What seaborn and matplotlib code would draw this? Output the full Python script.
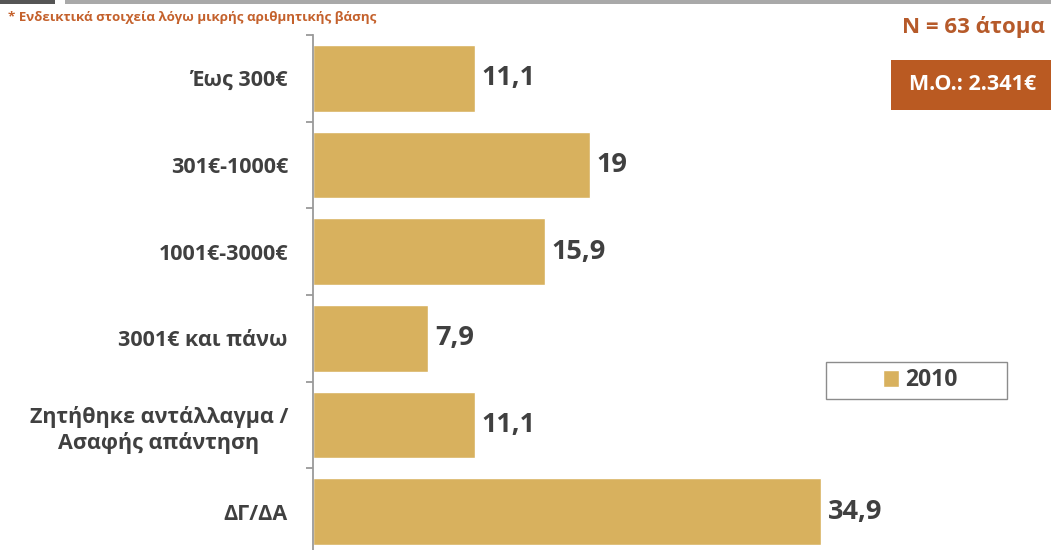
import matplotlib
matplotlib.use("Agg")
import matplotlib.pyplot as plt
from matplotlib.patches import Rectangle
from matplotlib.ticker import FixedLocator
import seaborn as sns
import pandas as pd

categories = [
    "Έως 300€",
    "301€-1000€",
    "1001€-3000€",
    "3001€ και πάνω",
    "Ζητήθηκε αντάλλαγμα /\nΑσαφής απάντηση",
    "ΔΓ/ΔΑ",
]
values = [11.1, 19, 15.9, 7.9, 11.1, 34.9]
series_name = "2010"
note_text = "* Ενδεικτικά στοιχεία λόγω μικρής αριθμητικής βάσης"
n_text = "N = 63 άτομα"
mean_text = "Μ.Ο.: 2.341€"

BAR = "#D8B15E"
TEXT = "#404040"

sns.set_theme(style="white")
plt.rcParams["font.family"] = ["Open Sans", "DejaVu Sans"]

df = pd.DataFrame({"cat": categories, "val": values})

W, H = 1051, 550
fig = plt.figure(figsize=(W / 100, H / 100), dpi=100)
ax = fig.add_axes([313 / W, 1 - 555 / H, 728 / W, 520 / H])

sns.barplot(data=df, x="val", y="cat", orient="h", color=BAR, width=0.77,
            saturation=1, label=series_name, ax=ax)
if ax.get_legend() is not None:
    ax.get_legend().remove()

ax.set_xlim(0, 50)
ax.set_ylim(len(categories) - 0.5, -0.5)
ax.set_xlabel("")
ax.set_ylabel("")
ax.set_xticks([])
for side in ("top", "right", "bottom"):
    ax.spines[side].set_visible(False)
ax.spines["left"].set_color("#9a9a9a")
ax.spines["left"].set_linewidth(1.3)

ax.tick_params(axis="y", which="major", length=0, pad=18)
ax.yaxis.set_minor_locator(FixedLocator([i - 0.5 for i in range(len(categories) + 1)]))
ax.tick_params(axis="y", which="minor", length=5, width=1.3, color="#9a9a9a", left=True)
for lab in ax.get_yticklabels():
    lab.set_fontsize(15.5)
    lab.set_fontweight("bold")
    lab.set_color(TEXT)
    lab.set_multialignment("center")
    lab.set_linespacing(1.25)

labels = [f"{v:g}".replace(".", ",") for v in values]
ax.bar_label(ax.containers[0], labels=labels, padding=5, fontsize=19.5,
             color=TEXT, fontweight="bold")

# header strips
fig.add_artist(Rectangle((0, 1 - 4 / H), 55 / W, 4 / H, transform=fig.transFigure,
                         facecolor="#555555", edgecolor="none"))
fig.add_artist(Rectangle((65 / W, 1 - 4 / H), (W - 65) / W, 4 / H, transform=fig.transFigure,
                         facecolor="#a9a9a9", edgecolor="none"))

fig.text(8 / W, 1 - 18 / H, note_text, fontsize=9.6, fontweight="bold",
         color="#C4612C", va="center", ha="left")
fig.text(1045 / W, 1 - 27 / H, n_text, fontsize=16, fontweight="bold",
         color="#B65A2A", va="center", ha="right")

fig.add_artist(Rectangle((891 / W, 1 - 110 / H), (W - 891) / W, 50 / H,
                         transform=fig.transFigure, facecolor="#BA5A22", edgecolor="none"))
fig.text(973 / W, 1 - 85 / H, mean_text, fontsize=15.5, fontweight="bold",
         color="white", va="center", ha="center")

# legend
fig.add_artist(Rectangle((826 / W, 1 - 399 / H), 181 / W, 37 / H,
                         transform=fig.transFigure, facecolor="white",
                         edgecolor="#8c8c8c", linewidth=1))
leg = fig.legend(handles=ax.containers[0][:1], labels=[series_name], loc="center",
                 bbox_to_anchor=(920 / W, 1 - 380.5 / H), frameon=False,
                 handlelength=0.7, handleheight=0.7, handletextpad=0.25,
                 prop={"size": 16.5, "weight": "bold"})
for t in leg.get_texts():
    t.set_color(TEXT)

fig.savefig("out.png", dpi=100)
